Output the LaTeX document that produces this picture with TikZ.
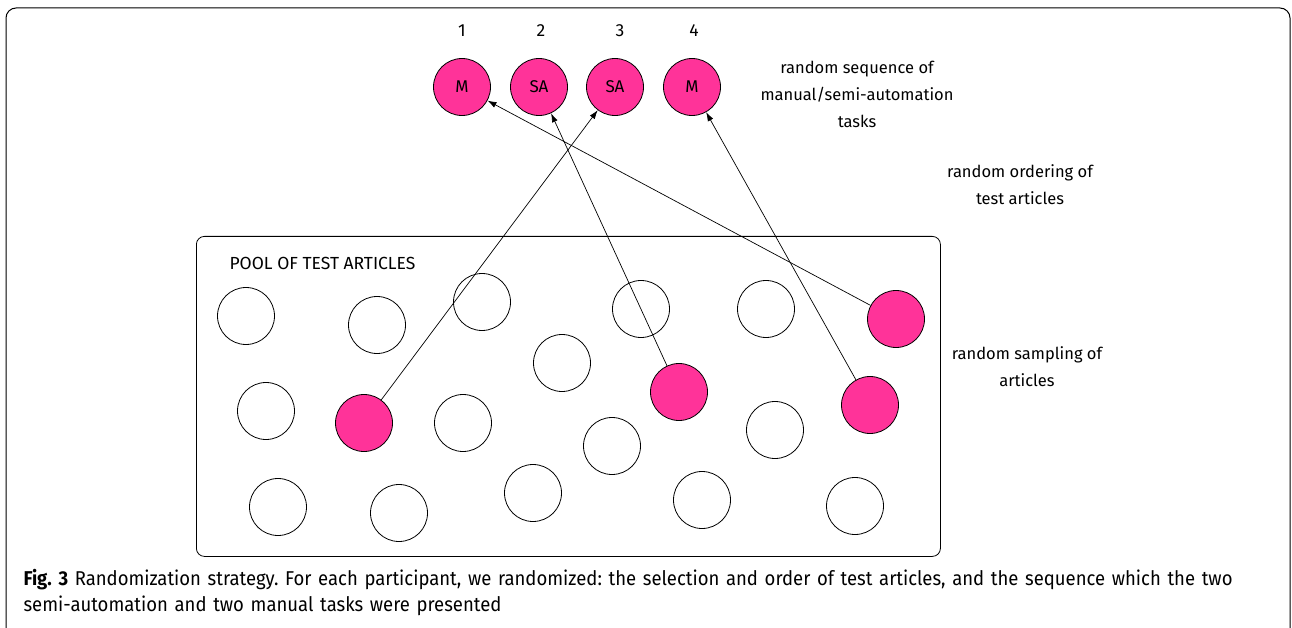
\documentclass[tikz,border=0pt]{standalone}
\usepackage{fontspec}
\setmainfont{Fira Sans}
\newfontfamily\capfont[FakeStretch=0.925]{Fira Sans}
\usetikzlibrary{arrows.meta}
\definecolor{pinkfill}{HTML}{FF3399}
\begin{document}
\begin{tikzpicture}[x=1pt,y=-1pt,
  art/.style={circle,draw=black,line width=0.8pt,minimum size=57pt,inner sep=0pt},
  sel/.style={art,fill=pinkfill},
  task/.style={sel,font=\fontsize{17}{18}\selectfont},
  numlbl/.style={font=\fontsize{17.5}{20}\selectfont},
  lbl/.style={font=\fontsize{16.5}{27}\selectfont,align=center},
  conn/.style={-{Latex[length=9pt,width=6pt]},line width=0.7pt}]
\useasboundingbox (0,0) rectangle (1292,628);
% outer frame
\draw[line width=1pt,rounded corners=10pt] (6,660) -- (6,8) -- (1290,8) -- (1290,660);
% pool
\node[draw,line width=0.8pt,rounded corners=8pt,minimum width=744pt,minimum height=320pt,anchor=north west] (pool) at (196,236) {};
\node[anchor=west,font=\fontsize{17.5}{20}\selectfont] (pooltitle) at (226,263) {POOL OF TEST ARTICLES};
% top task circles
\node[task] (t1) at (462,87) {M};
\node[task] (t2) at (539,87) {SA};
\node[task] (t3) at (615,87) {SA};
\node[task] (t4) at (692,87) {M};
\node[numlbl] (n1) at (462,31) {1};
\node[numlbl] (n2) at (541,31) {2};
\node[numlbl] (n3) at (620,31) {3};
\node[numlbl] (n4) at (694,31) {4};
% labels
\node[lbl] (lseq) at (857,94) {random sequence of\\manual/semi-automation\\tasks};
\node[lbl] (lord) at (1020,185) {random ordering of\\test articles};
\node[lbl] (lsam) at (1027,367) {random sampling of\\articles};
% pool articles
\node[art] (a1) at (246,316) {};
\node[art] (a2) at (377,325) {};
\node[art] (a3) at (482,302) {};
\node[art] (a4) at (641,309) {};
\node[art] (a5) at (766,309) {};
\node[sel] (p1) at (896,319) {};
\node[art] (a6) at (562,363) {};
\node[sel] (p2) at (679,392) {};
\node[art] (a7) at (266,411) {};
\node[sel] (p3) at (364,423) {};
\node[art] (a8) at (463,423) {};
\node[art] (a9) at (612,446) {};
\node[art] (a10) at (775,430) {};
\node[sel] (p4) at (870,405) {};
\node[art] (a11) at (278,507) {};
\node[art] (a12) at (399,513) {};
\node[art] (a13) at (533,493) {};
\node[art] (a14) at (702,500) {};
\node[art] (a15) at (855,506) {};
% connectors
\draw[conn] (p3) -- (t3);
\draw[conn] (p2) -- (t2);
\draw[conn] (p1) -- (t1);
\draw[conn] (p4) -- (t4);
% caption
\node[anchor=north west,text width=1250pt,align=left,font=\capfont\fontsize{20}{26}\selectfont\frenchspacing] (cap) at (20,566) {\textbf{Fig. 3} Randomization strategy. For each participant, we randomized: the selection and order of test articles, and the sequence which the two\\semi-automation and two manual tasks were presented};
\end{tikzpicture}
\end{document}
